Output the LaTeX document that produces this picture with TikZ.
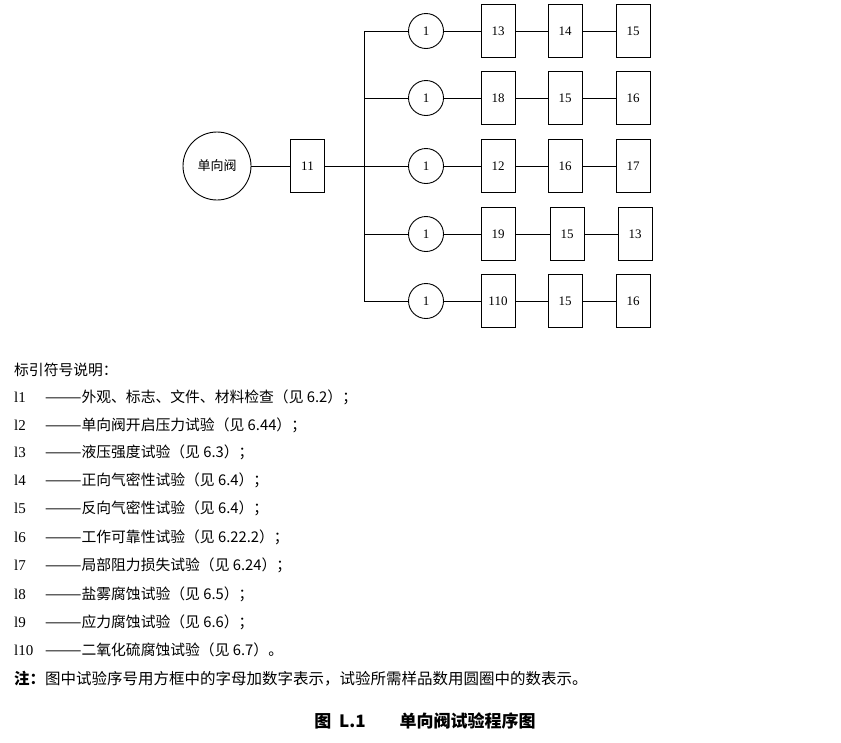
\documentclass[tikz,border=0pt]{standalone}
\usepackage{fontspec}
\setmainfont{Noto Sans CJK SC}
\newfontfamily\numf{Liberation Serif}
\begin{document}
\begin{tikzpicture}[x=1pt,y=-1pt,
  box/.style={draw,line width=0.9pt,minimum width=34pt,minimum height=53pt,inner sep=0pt,font=\numf\fontsize{13}{13}\selectfont},
  cir/.style={draw,circle,line width=0.9pt,minimum size=35pt,inner sep=0pt,font=\numf\fontsize{13}{13}\selectfont},
  ln/.style={line width=0.9pt},
  leg/.style={anchor=base west,inner sep=0pt,font=\fontsize{14.8}{14.8}\selectfont}]
\useasboundingbox (0,0) rectangle (841,742);
\node[cir,minimum size=68pt,font=\fontsize{13}{13}\selectfont] (v) at (217,166) {单向阀};
\node[box] (b11) at (307.5,166) {11};
\coordinate (t0) at (364,31);
\coordinate (t4) at (364,301);
\coordinate (tm) at (364,166);
\draw[ln] (v) -- (b11) -- (tm);
\draw[ln] (t0) -- (t4);
\foreach \i/\y/\a/\b/\c/\xb/\xc in {1/31/13/14/15/565/633, 2/98/18/15/16/565/633, 3/166/12/16/17/565/633, 4/234/19/15/13/567/635, 5/301/110/15/16/565/633} {
  \coordinate (j\i) at (364,\y);
  \node[cir] (c\i) at (426,\y) {1};
  \node[box] (p\i) at (498,\y) {\a};
  \node[box] (q\i) at (\xb,\y) {\b};
  \node[box] (r\i) at (\xc,\y) {\c};
  \draw[ln] (j\i) -- (c\i) -- (p\i) -- (q\i) -- (r\i);
}
\node[leg] (h) at (14,375) {标引符号说明：};
\foreach \n/\y/\t in {1/402/外观、标志、文件、材料检查（见 6.2）；, 2/430/单向阀开启压力试验（见 6.44）；, 3/457/液压强度试验（见 6.3）；, 4/485/正向气密性试验（见 6.4）；, 5/513/反向气密性试验（见 6.4）；, 6/542/工作可靠性试验（见 6.22.2）；, 7/570/局部阻力损失试验（见 6.24）；, 8/599/盐雾腐蚀试验（见 6.5）；, 9/627/应力腐蚀试验（见 6.6）；, 10/655/二氧化硫腐蚀试验（见 6.7）。} {
  \node[leg,font=\numf\fontsize{15}{15}\selectfont] (l\n) at (14,\y) {l\n};
  \node[leg] (d\n) at (45,\y) {———\t};
}
\node[leg,font=\fontsize{15.5}{15.5}\selectfont] (note) at (14,684) {\textbf{注：}图中试验序号用方框中的字母加数字表示，试验所需样品数用圆圈中的数表示。};
\node[anchor=base,inner sep=0pt,font=\bfseries\fontsize{17}{17}\selectfont] (cap) at (425,727) {图\ \ L.1\qquad 单向阀试验程序图};
\end{tikzpicture}
\end{document}
